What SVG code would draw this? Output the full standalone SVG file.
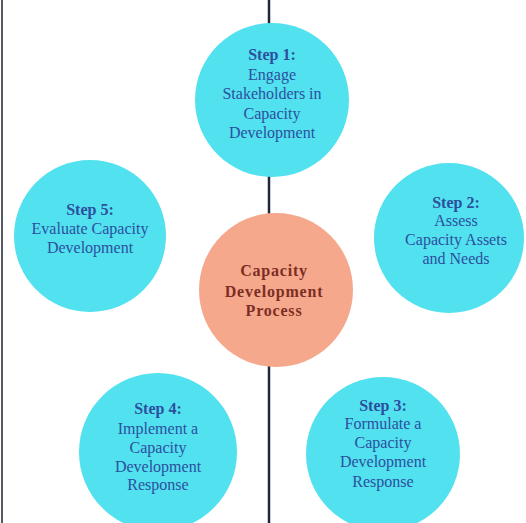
<svg xmlns="http://www.w3.org/2000/svg" width="526" height="523" viewBox="0 0 526 523">
  <style>
    .step { fill: #52e1ef; }
    .core { fill: #f5a88c; }
    text { font-family: "Liberation Serif", "DejaVu Serif", serif; font-size: 16px; text-anchor: middle; }
    .st { fill: #2c4f9e; }
    .b { font-weight: bold; }
    .ct { fill: #7c2e24; font-weight: bold; font-size: 16px; letter-spacing: 0.8px; }
  </style>
  <rect x="0" y="0" width="526" height="523" fill="#ffffff"/>
  <g id="connectors">
    <line x1="2" y1="0" x2="2" y2="523" stroke="#555a60" stroke-width="2"/>
    <line x1="269" y1="0" x2="269" y2="523" stroke="#1f2838" stroke-width="2.5"/>
  </g>
  <g id="step1">
    <circle class="step" cx="272" cy="100" r="77"/>
    <text class="st b" x="272" y="60">Step 1:</text>
    <text class="st" x="272" y="80">Engage</text>
    <text class="st" x="272" y="99">Stakeholders in</text>
    <text class="st" x="272" y="119">Capacity</text>
    <text class="st" x="272" y="138">Development</text>
  </g>
  <g id="step5">
    <circle class="step" cx="90" cy="236" r="76"/>
    <text class="st b" x="90" y="215">Step 5:</text>
    <text class="st" x="90" y="234">Evaluate Capacity</text>
    <text class="st" x="90" y="253">Development</text>
  </g>
  <g id="step2">
    <circle class="step" cx="449" cy="238" r="75"/>
    <text class="st b" x="456" y="208">Step 2:</text>
    <text class="st" x="456" y="226">Assess</text>
    <text class="st" x="456" y="245">Capacity Assets</text>
    <text class="st" x="456" y="264">and Needs</text>
  </g>
  <g id="center">
    <circle class="core" cx="276" cy="290" r="77"/>
    <text class="ct" x="274" y="276">Capacity</text>
    <text class="ct" x="274" y="297">Development</text>
    <text class="ct" x="274" y="316">Process</text>
  </g>
  <g id="step4">
    <circle class="step" cx="158" cy="452" r="79"/>
    <text class="st b" x="158" y="414">Step 4:</text>
    <text class="st" x="158" y="434">Implement a</text>
    <text class="st" x="158" y="453">Capacity</text>
    <text class="st" x="158" y="472">Development</text>
    <text class="st" x="158" y="490">Response</text>
  </g>
  <g id="step3">
    <circle class="step" cx="383" cy="454" r="77"/>
    <text class="st b" x="383" y="411">Step 3:</text>
    <text class="st" x="383" y="429">Formulate a</text>
    <text class="st" x="383" y="448">Capacity</text>
    <text class="st" x="383" y="467">Development</text>
    <text class="st" x="383" y="487">Response</text>
  </g>
</svg>
